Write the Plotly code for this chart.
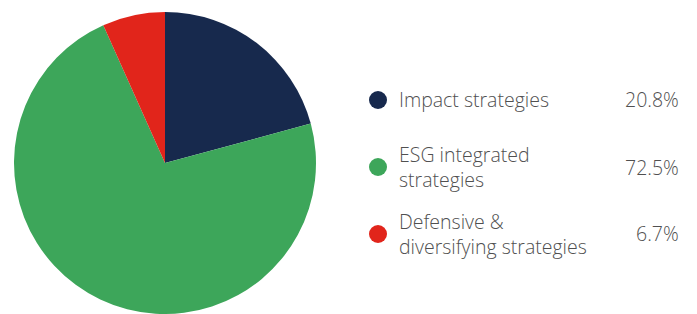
import plotly.graph_objects as go

labels = ["Impact strategies", "ESG integrated<br>strategies", "Defensive &<br>diversifying strategies"]
values = [20.8, 72.5, 6.7]
pct_labels = ["20.8%", "72.5%", "6.7%"]
colors = ["#17294D", "#3DA65A", "#E1251B"]

W, H = 697, 314

fig = go.Figure()
fig.add_trace(go.Pie(
    labels=labels, values=values, sort=False, direction="clockwise", rotation=0,
    marker=dict(colors=colors, line=dict(width=0)),
    textinfo="none", hoverinfo="label+percent", showlegend=False,
    domain=dict(x=[14 / W, 316 / W], y=[0, 302 / H]),
))

row_y = [100, 167, 234]
marker_x = 378
text_x = 397
pct_x = 681
font = dict(family="Open Sans, sans-serif", size=19.5, color="#505050", weight=300)

for i, (lab, pct, col) in enumerate(zip(labels, pct_labels, colors)):
    yc = 1 - row_y[i] / H
    fig.add_shape(type="circle", xref="paper", yref="paper",
                  xsizemode="pixel", ysizemode="pixel",
                  xanchor=marker_x / W, yanchor=yc,
                  x0=-9, x1=9, y0=-9, y1=9,
                  fillcolor=col, line=dict(width=0))
    fig.add_annotation(x=text_x / W, y=yc, xref="paper", yref="paper",
                       text=lab, showarrow=False, xanchor="left", yanchor="middle",
                       align="left", font=font)
    fig.add_annotation(x=pct_x / W, y=yc, xref="paper", yref="paper",
                       text=pct, showarrow=False, xanchor="right", yanchor="middle",
                       align="right", font=font)

fig.update_layout(width=W, height=H, margin=dict(l=0, r=0, t=0, b=0),
                  paper_bgcolor="white", plot_bgcolor="white")
fig.write_html("out.html", config={"displayModeBar": False},
               post_script="document.body.style.margin='0';")
